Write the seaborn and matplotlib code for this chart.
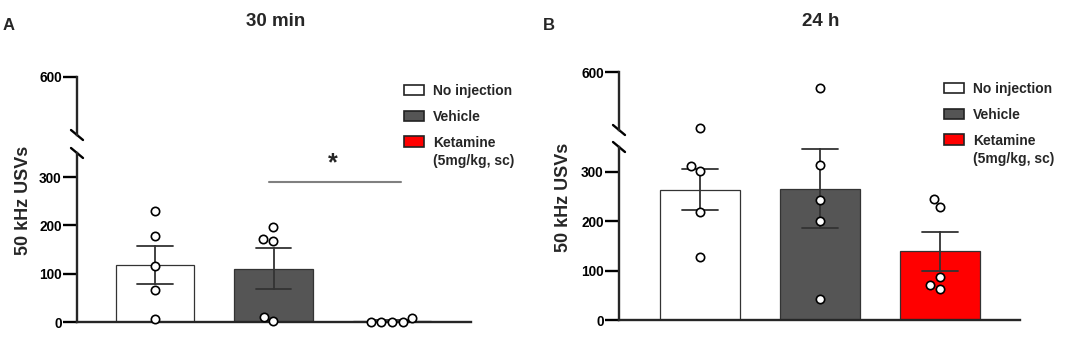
import numpy as np
import pandas as pd
import matplotlib
matplotlib.use("Agg")
import matplotlib.pyplot as plt
import seaborn as sns
from matplotlib.patches import Patch

# ---------------- data ----------------
groups = ["No injection", "Vehicle", "Ketamine"]
legend_extra = "(5mg/kg, sc)"
colors = ["#ffffff", "#555555", "#ff0000"]

# 30 min
noinj_30 = [229, 178, 115, 67, 6]
veh_30 = [197, 172, 168, 10, 3]
ket_30 = [0, 8, 0, 1, 0]
# 24 h
noinj_24 = [360, 312, 301, 219, 128]
veh_24 = [531, 314, 242, 200, 43]
ket_24 = [245, 228, 87, 71, 63]

lower_ticks = [0, 100, 200, 300]
upper_ticks = [600]
break_low, break_high, y_max = 350, 350, 600


def long_df(a, b, c):
    rows = []
    for g, vals in zip(groups, [a, b, c]):
        for v in vals:
            rows.append({"group": g, "value": v})
    return pd.DataFrame(rows)


df30 = long_df(noinj_30, veh_30, ket_30)
df24 = long_df(noinj_24, veh_24, ket_24)

# ---------------- style ----------------
sns.set_style("ticks")
plt.rcParams["font.family"] = ["Liberation Sans", "DejaVu Sans"]
plt.rcParams["font.weight"] = "bold"
plt.rcParams["axes.labelweight"] = "bold"

W, H = 1084, 341
fig = plt.figure(figsize=(W / 100, H / 100), dpi=100)


def px_axes(x0, x1, ytop, ybot):
    return fig.add_axes([x0 / W, 1 - ybot / H, (x1 - x0) / W, (ybot - ytop) / H])


SPW = 1.7


def draw_panel(df, x0, x1, low_box, up_box, c0, sp):
    lower = px_axes(x0, x1, *low_box)
    upper = px_axes(x0, x1, *up_box)
    xlim = ((x0 - c0) / sp, (x1 - c0) / sp)

    sns.barplot(data=df, x="group", y="value", hue="group", order=groups,
                hue_order=groups, palette=colors, saturation=1, estimator="mean",
                errorbar="se", capsize=0.3, width=0.66, edgecolor="#333333",
                linewidth=0.9, err_kws=dict(color="#333333", linewidth=1.3),
                legend=False, ax=lower)
    low = df[df["value"] <= break_low]
    sns.swarmplot(data=low, x="group", y="value", order=groups, color="white",
                  edgecolor="black", linewidth=1.2, size=6, ax=lower, zorder=5)
    for c in lower.collections:
        c.set_clip_on(False)
    hi = df[df["value"] > break_low]
    if len(hi):
        sns.swarmplot(data=hi, x="group", y="value", order=groups, color="white",
                      edgecolor="black", linewidth=1.2, size=6, ax=upper, zorder=5)
        for c in upper.collections:
            c.set_clip_on(False)

    for ax in (lower, upper):
        ax.set_xlim(*xlim)
        ax.set_xticks([])
        ax.set_xlabel("")
        ax.set_ylabel("")
        ax.spines["top"].set_visible(False)
        ax.spines["right"].set_visible(False)
        ax.spines["left"].set_linewidth(SPW)
        ax.tick_params(axis="y", length=10, width=SPW, labelsize=9.8, pad=1,
                       colors="black")
        ax.patch.set_alpha(0)
    lower.spines["bottom"].set_linewidth(SPW)
    upper.spines["bottom"].set_visible(False)
    lower.set_ylim(0, break_low)
    lower.set_yticks(lower_ticks)
    upper.set_ylim(break_high, y_max)
    upper.set_yticks(upper_ticks)

    # break marks ("\" shaped)
    for ax, yy in ((lower, 1.0), (upper, 0.0)):
        bb = ax.get_position()
        wpx = bb.width * W
        hpx = bb.height * H
        dx, dy = 6 / wpx, 5 / hpx
        ax.plot([-dx, dx], [yy + dy, yy - dy], transform=ax.transAxes,
                color="black", lw=SPW, clip_on=False)
    return lower, upper


lowA, upA = draw_panel(df30, 77, 471, (153, 322), (77, 135), 155, 118.5)
lowB, upB = draw_panel(df24, 619, 1020, (147, 320), (72, 130), 700, 120)

# significance annotation (panel A)
lowA.plot([0.96, 2.08], [290, 290], color="#808080", lw=1.5, clip_on=False)
lowA.text(1.5, 328, "*", ha="center", va="center", fontsize=18)

# titles & panel letters
fig.text(276 / W, 1 - 22 / H, "30 min", ha="center", va="center", fontsize=13.5)
fig.text(821 / W, 1 - 22 / H, "24 h", ha="center", va="center", fontsize=13.5)
fig.text(3 / W, 1 - 26 / H, "A", ha="left", va="center", fontsize=12)
fig.text(543 / W, 1 - 26 / H, "B", ha="left", va="center", fontsize=12)

# y labels
fig.text(24 / W, 1 - 200 / H, "50 kHz USVs", rotation=90, ha="center",
         va="center", fontsize=13)
fig.text(564 / W, 1 - 197 / H, "50 kHz USVs", rotation=90, ha="center",
         va="center", fontsize=13)

# legends
handles = [Patch(facecolor=c, edgecolor="#222222", linewidth=1.2) for c in colors]
for lx, ly, tx in ((404, 84, 433), (944, 82, 973)):
    fig.legend(handles=handles, labels=groups, loc="upper left",
               bbox_to_anchor=(lx / W, 1 - ly / H), frameon=False, fontsize=10,
               handlelength=1.45, handleheight=0.8, handletextpad=0.65,
               labelspacing=0.85, borderpad=0, borderaxespad=0)
    fig.text(tx / W, 1 - (ly + 77) / H, legend_extra, ha="left", va="center",
             fontsize=10)

fig.savefig("out.png", dpi=100)
